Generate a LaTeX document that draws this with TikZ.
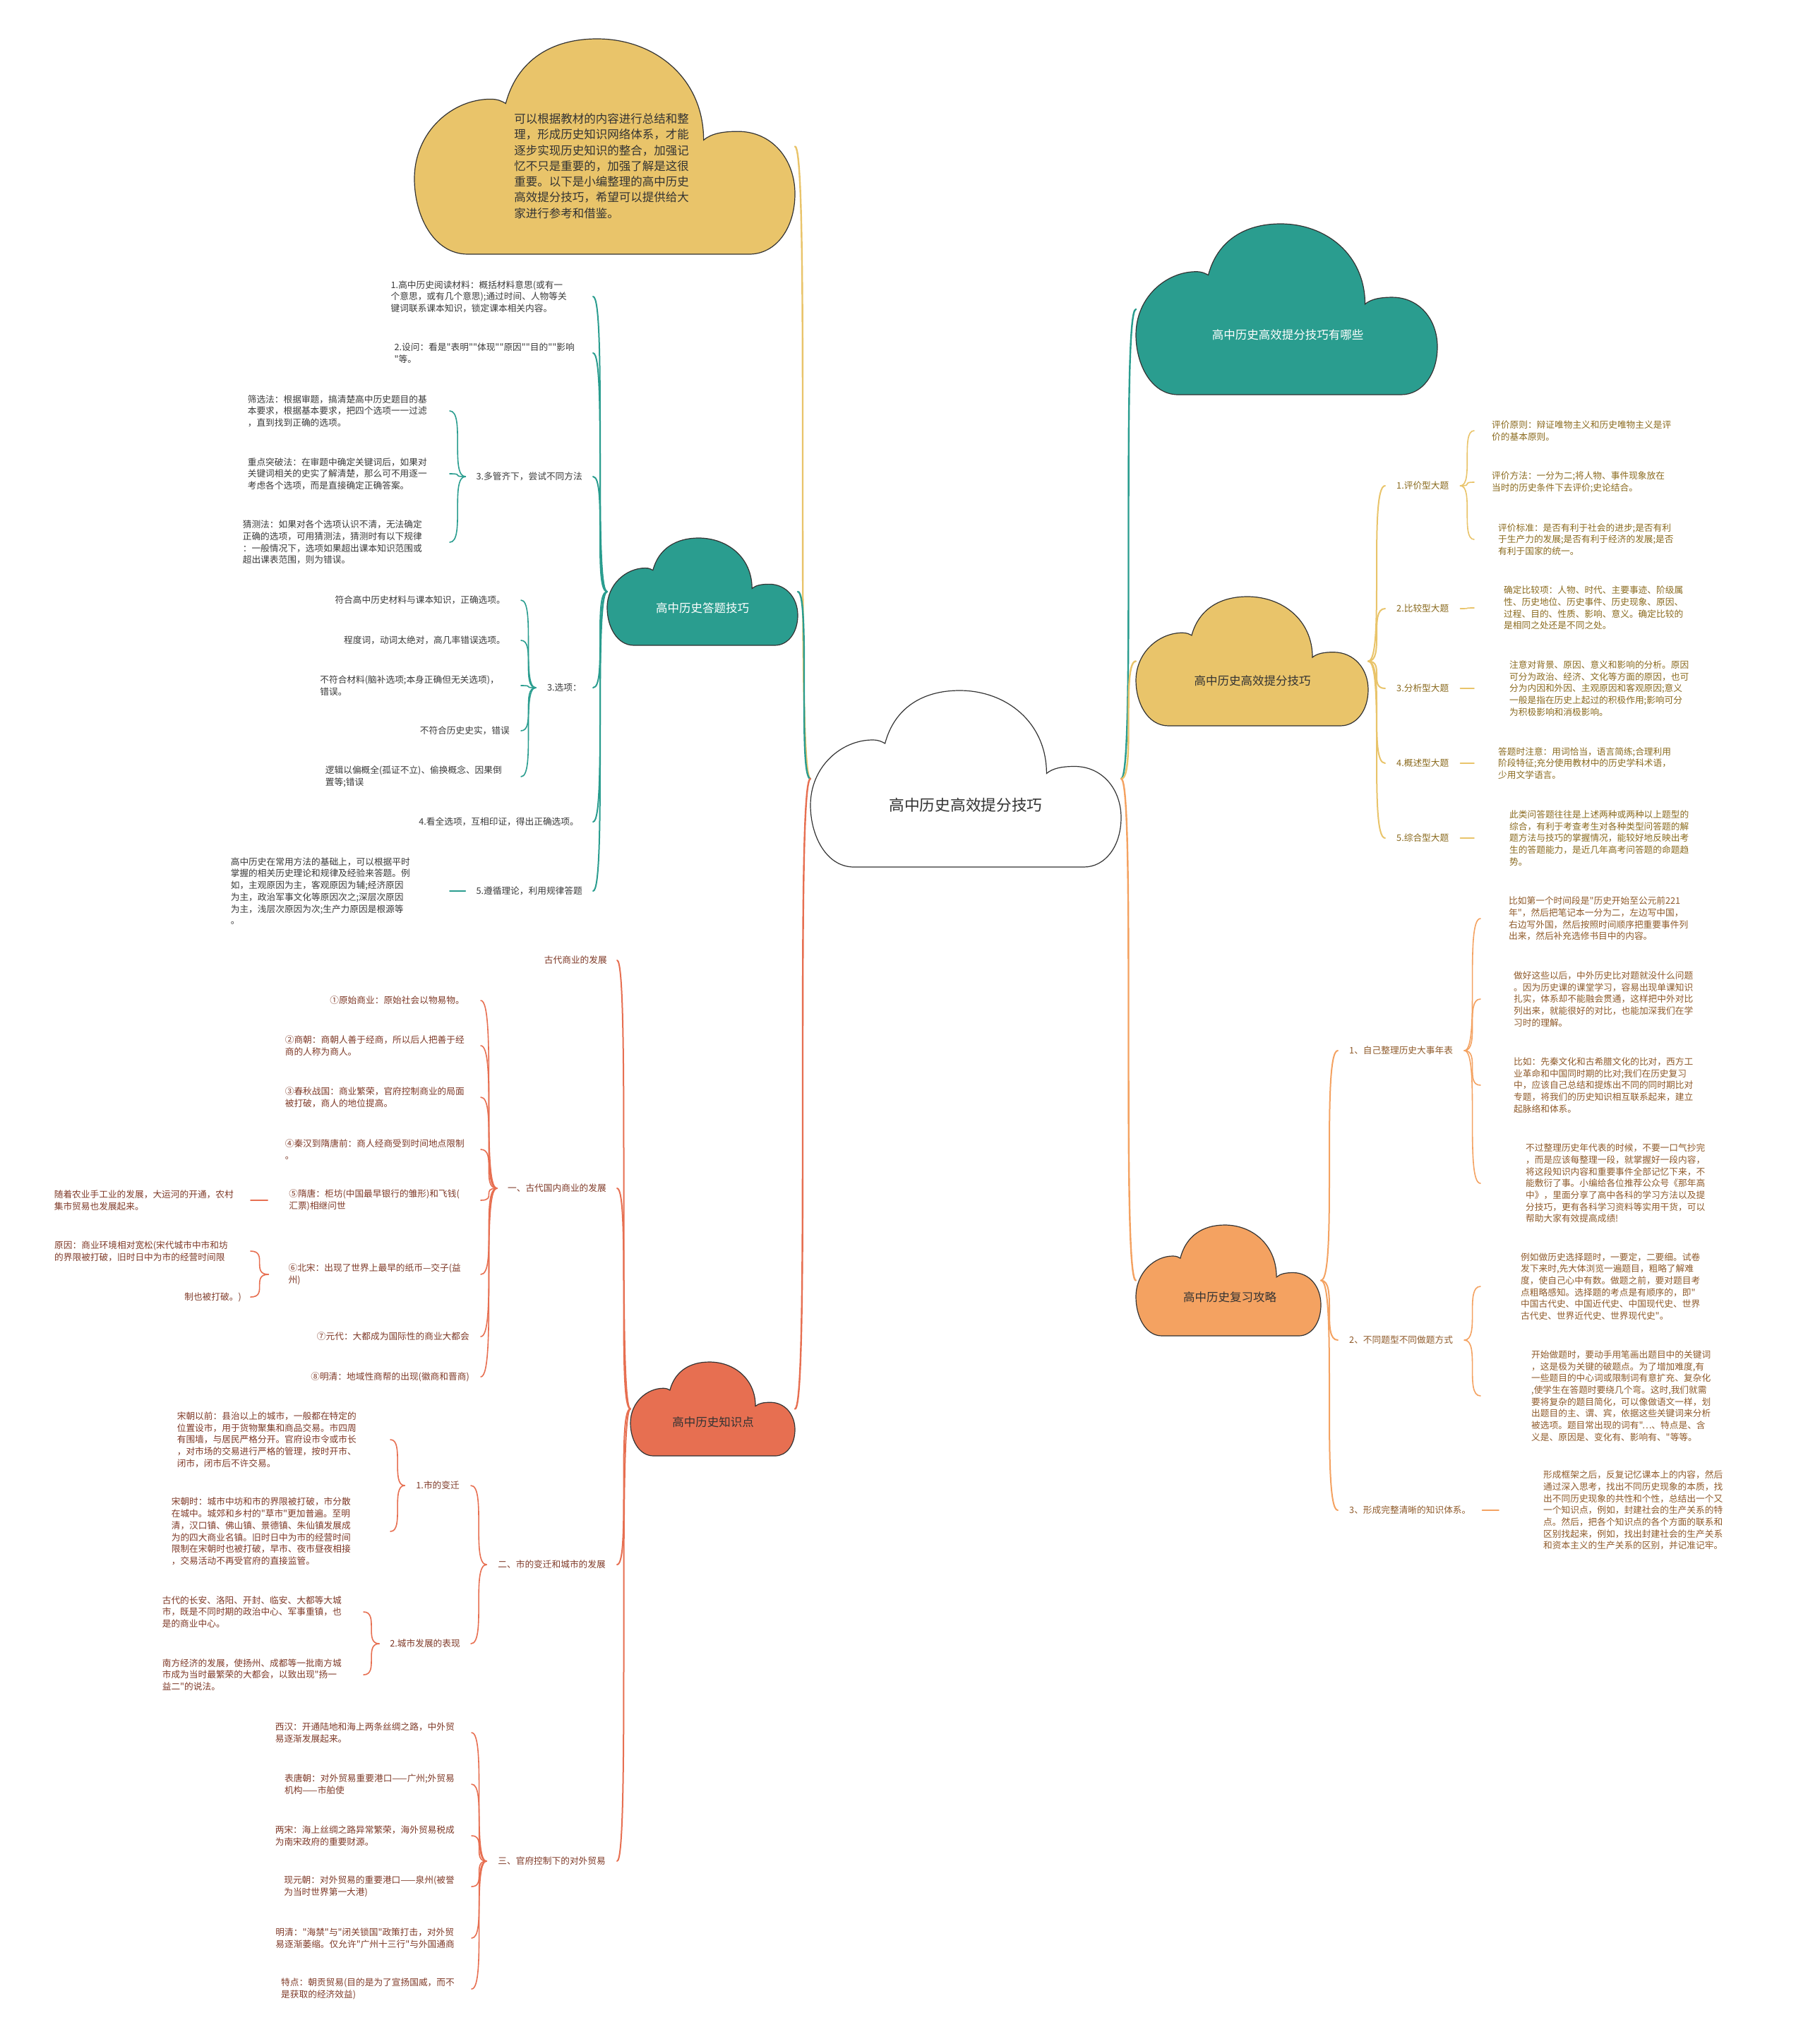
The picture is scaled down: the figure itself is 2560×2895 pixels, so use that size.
\documentclass[tikz,border=0pt]{standalone}
\usepackage{fontspec}
\setmainfont{Noto Sans CJK SC}[Ligatures=TeXOff]
\definecolor{MapTeal}{HTML}{2A9D8F}
\definecolor{MapGold}{HTML}{E9C46A}
\definecolor{MapSand}{HTML}{F4A261}
\definecolor{MapCoral}{HTML}{E76F51}
\definecolor{MapInk}{HTML}{333333}
\definecolor{MapTealText}{HTML}{3A3A3A}
\definecolor{MapGoldText}{HTML}{8A6A1E}
\definecolor{MapSandText}{HTML}{8F5A2A}
\definecolor{MapCoralText}{HTML}{7F3A28}
\tikzset{
    % Cloud styles
    cloudarea/.style={
        rectangle,
        inner sep=0pt,
        outer sep=0pt
    },
    cloudlabel/.style={
        align=center,
        inner sep=2pt,
        font=\fontsize{16.5pt}{22.3pt}\selectfont,
        text=MapInk
    },
    cloud/.pic={
        \draw[line width=1.2pt, draw=MapInk, fill=#1]
            (0.24,0.30) .. controls (0.27,0.10) and (0.36,0.00) .. (0.48,0.00)
            .. controls (0.63,0.00) and (0.76,0.18) .. (0.76,0.47)
            .. controls (0.78,0.44) and (0.81,0.43) .. (0.85,0.43)
            .. controls (0.94,0.43) and (1.00,0.56) .. (1.00,0.72)
            .. controls (1.00,0.88) and (0.95,1.00) .. (0.88,1.00)
            -- (0.14,1.00)
            .. controls (0.05,1.00) and (0.00,0.82) .. (0.00,0.65)
            .. controls (0.00,0.43) and (0.10,0.28) .. (0.20,0.28)
            .. controls (0.22,0.28) and (0.23,0.29) .. (0.24,0.30) -- cycle;
    },
    % Text styles
    note/.style={
        align=left,
        inner ysep=1pt,
        inner xsep=16pt,
        font=\fontsize{12.7pt}{16.7pt}\selectfont
    },
    tealnote/.style={note, text=MapTealText},
    goldnote/.style={note, text=MapGoldText},
    sandnote/.style={note, text=MapSandText},
    coralnote/.style={note, text=MapCoralText},
    % Line styles - smooth steps only
    link/.style={
        line width=1.6pt,
        line cap=round,
        to path={.. controls (\tikztotarget |- \tikztostart) and (\tikztostart |- \tikztotarget) .. (\tikztotarget) \tikztonodes}
    },
    trunk/.style={line width=2.4pt},
    bough/.style={line width=2pt},
    teallink/.style={link, draw=MapTeal},
    goldlink/.style={link, draw=MapGold},
    sandlink/.style={link, draw=MapSand},
    corallink/.style={link, draw=MapCoral}
}

\begin{document}
\begin{tikzpicture}[x=1pt, y=-1pt]
    \path[use as bounding box, fill=white] (0,0) rectangle (2560,2895);

    % Cloud areas
    \node[cloudarea, minimum width=440pt, minimum height=250pt] (root) at (1368,1103) {};
    \node[cloudarea, minimum width=539pt, minimum height=305pt] (top) at (856.5,207.5) {};
    \node[cloudarea, minimum width=427pt, minimum height=242pt] (ask) at (1822.5,438) {};
    \node[cloudarea, minimum width=329pt, minimum height=183pt] (tips) at (1773.5,936.5) {};
    \node[cloudarea, minimum width=262pt, minimum height=157pt] (review) at (1740,1813.5) {};
    \node[cloudarea, minimum width=270pt, minimum height=152pt] (answer) at (995,838) {};
    \node[cloudarea, minimum width=233pt, minimum height=133pt] (know) at (1009.5,1995.5) {};

    % Answer skills
    \node[tealnote, anchor=east, inner xsep=37pt] (dt1) at (840,420) {1.高中历史阅读材料：概括材料意思(或有一\\个意思，或有几个意思);通过时间、人物等关\\键词联系课本知识，锁定课本相关内容。};
    \node[tealnote, anchor=east, inner xsep=26pt] (dt2) at (840,500) {2.设问：看是"表明""体现""原因""目的""影响\\"等。};
    \node[tealnote, anchor=east, inner xsep=15pt] (dt3) at (840,675) {3.多管齐下，尝试不同方法};
    \node[tealnote, anchor=east, inner xsep=32pt] (dt3a) at (637,582) {筛选法：根据审题，搞清楚高中历史题目的基\\本要求，根据基本要求，把四个选项一一过滤\\，直到找到正确的选项。};
    \node[tealnote, anchor=east, inner xsep=32pt] (dt3b) at (637,671) {重点突破法：在审题中确定关键词后，如果对\\关键词相关的史实了解清楚，那么可不用逐一\\考虑各个选项，而是直接确定正确答案。};
    \node[tealnote, anchor=east, inner xsep=39pt] (dt3c) at (637,768) {猜测法：如果对各个选项认识不清，无法确定\\正确的选项，可用猜测法，猜测时有以下规律\\：一般情况下，选项如果超出课本知识范围或\\超出课表范围，则为错误。};
    \node[tealnote, anchor=east] (dt4) at (840,974) {3.选项：};
    \node[tealnote, anchor=east, inner xsep=22pt] (dt4a) at (738,850) {符合高中历史材料与课本知识，正确选项。};
    \node[tealnote, anchor=east, inner xsep=22pt] (dt4b) at (738,907) {程度词，动词太绝对，高几率错误选项。};
    \node[tealnote, anchor=east, inner xsep=31pt] (dt4c) at (738,971) {不符合材料(脑补选项;本身正确但无关选项)，\\错误。};
    \node[tealnote, anchor=east] (dt4d) at (738,1035) {不符合历史史实，错误};
    \node[tealnote, anchor=east, inner xsep=27pt] (dt4e) at (738,1100) {逻辑以偏概全(孤证不立)、偷换概念、因果倒\\置等;错误};
    \node[tealnote, anchor=east, inner xsep=20pt] (dt5) at (840,1164) {4.看全选项，互相印证，得出正确选项。};
    \node[tealnote, anchor=east, inner xsep=15pt] (dt6) at (840,1262) {5.遵循理论，利用规律答题};
    \node[tealnote, anchor=east, inner xsep=56pt] (dt6a) at (637,1262) {高中历史在常用方法的基础上，可以根据平时\\掌握的相关历史理论和规律及经验来答题。例\\如，主观原因为主，客观原因为辅;经济原因\\为主，政治军事文化等原因次之;深层次原因\\为主，浅层次原因为次;生产力原因是根源等\\。};

    % Knowledge points
    \node[coralnote, anchor=east, inner xsep=14pt] (k0) at (874,1360) {古代商业的发展};
    \node[coralnote, anchor=east, inner xsep=15pt] (k1) at (874,1683) {一、古代国内商业的发展};
    \node[coralnote, anchor=east, inner xsep=23pt] (k1a) at (681,1417) {①原始商业：原始社会以物易物。};
    \node[coralnote, anchor=east, inner xsep=23pt] (k1b) at (681,1481) {②商朝：商朝人善于经商，所以后人把善于经\\商的人称为商人。};
    \node[coralnote, anchor=east, inner xsep=23pt] (k1c) at (681,1554) {③春秋战国：商业繁荣，官府控制商业的局面\\被打破，商人的地位提高。};
    \node[coralnote, anchor=east, inner xsep=23pt] (k1d) at (681,1628) {④秦汉到隋唐前：商人经商受到时间地点限制\\。};
    \node[coralnote, anchor=east, inner xsep=30pt] (k1e) at (681,1700) {⑤隋唐：柜坊(中国最早银行的雏形)和飞钱(\\汇票)相继问世};
    \node[coralnote, anchor=east, inner xsep=24pt] (k1e1) at (355,1700) {随着农业手工业的发展，大运河的开通，农村\\集市贸易也发展起来。};
    \node[coralnote, anchor=east, inner xsep=28pt] (k1f) at (681,1805) {⑥北宋：出现了世界上最早的纸币—交子(益\\州)};
    \node[coralnote, anchor=east, inner xsep=32pt] (k1f1) at (355,1772) {原因：商业环境相对宽松(宋代城市中市和坊\\的界限被打破，旧时日中为市的经营时间限};
    \node[coralnote, anchor=east, inner xsep=13pt] (k1f2) at (355,1837) {制也被打破。)};
    \node[coralnote, anchor=east] (k1g) at (681,1893) {⑦元代：大都成为国际性的商业大都会};
    \node[coralnote, anchor=east] (k1h) at (681,1950) {⑧明清：地域性商帮的出现(徽商和晋商)};
    \node[coralnote, anchor=east] (k2) at (874,2216) {二、市的变迁和城市的发展};
    \node[coralnote, anchor=east] (k2a) at (667,2104) {1.市的变迁};
    \node[coralnote, anchor=east, inner xsep=48pt] (k2a1) at (553,2039) {宋朝以前：县治以上的城市，一般都在特定的\\位置设市，用于货物聚集和商品交易。市四周\\有围墙，与居民严格分开。官府设市令或市长\\，对市场的交易进行严格的管理，按时开市、\\闭市，闭市后不许交易。};
    \node[coralnote, anchor=east, inner xsep=56pt] (k2a2) at (553,2169) {宋朝时：城市中坊和市的界限被打破，市分散\\在城中。城郊和乡村的"草市"更加普遍。至明\\清，汉口镇、佛山镇、景德镇、朱仙镇发展成\\为的四大商业名镇。旧时日中为市的经营时间\\限制在宋朝时也被打破，早市、夜市昼夜相接\\，交易活动不再受官府的直接监管。};
    \node[coralnote, anchor=east, inner xsep=15pt] (k2b) at (667,2328) {2.城市发展的表现};
    \node[coralnote, anchor=east, inner xsep=31pt] (k2b1) at (515,2283) {古代的长安、洛阳、开封、临安、大都等大城\\市，既是不同时期的政治中心、军事重镇，也\\是的商业中心。};
    \node[coralnote, anchor=east, inner xsep=31pt] (k2b2) at (515,2372) {南方经济的发展，使扬州、成都等一批南方城\\市成为当时最繁荣的大都会，以致出现"扬一\\益二"的说法。};
    \node[coralnote, anchor=east] (k3) at (874,2636) {三、官府控制下的对外贸易};
    \node[coralnote, anchor=east, inner xsep=24pt] (k3a) at (668,2454) {西汉：开通陆地和海上两条丝绸之路，中外贸\\易逐渐发展起来。};
    \node[coralnote, anchor=east, inner xsep=24pt] (k3b) at (668,2527) {表唐朝：对外贸易重要港口——广州;外贸易\\机构——市舶使};
    \node[coralnote, anchor=east, inner xsep=24pt] (k3c) at (668,2600) {两宋：海上丝绸之路异常繁荣，海外贸易税成\\为南宋政府的重要财源。};
    \node[coralnote, anchor=east, inner xsep=24pt] (k3d) at (668,2672) {现元朝：对外贸易的重要港口——泉州(被誉\\为当时世界第一大港)};
    \node[coralnote, anchor=east, inner xsep=24pt] (k3e) at (668,2745) {明清："海禁"与"闭关锁国"政策打击，对外贸\\易逐渐萎缩。仅允许"广州十三行"与外国通商};
    \node[coralnote, anchor=east, inner xsep=24pt] (k3f) at (668,2817) {特点：朝贡贸易(目的是为了宣扬国威，而不\\是获取的经济效益)};

    % Scoring tips
    \node[goldnote, anchor=west] (g1) at (1962,688) {1.评价型大题};
    \node[goldnote, anchor=west, inner xsep=25pt] (g1a) at (2088,610) {评价原则：辩证唯物主义和历史唯物主义是评\\价的基本原则。};
    \node[goldnote, anchor=west, inner xsep=25pt] (g1b) at (2088,683) {评价方法：一分为二;将人物、事件现象放在\\当时的历史条件下去评价;史论结合。};
    \node[goldnote, anchor=west, inner xsep=34pt] (g1c) at (2088,764) {评价标准：是否有利于社会的进步;是否有利\\于生产力的发展;是否有利于经济的发展;是否\\有利于国家的统一。};
    \node[goldnote, anchor=west] (g2) at (1962,862) {2.比较型大题};
    \node[goldnote, anchor=west, inner xsep=42pt] (g2a) at (2088,861) {确定比较项：人物、时代、主要事迹、阶级属\\性、历史地位、历史事件、历史现象、原因、\\过程、目的、性质、影响、意义。确定比较的\\是相同之处还是不同之处。};
    \node[goldnote, anchor=west] (g3) at (1962,975) {3.分析型大题};
    \node[goldnote, anchor=west, inner xsep=50pt] (g3a) at (2088,975) {注意对背景、原因、意义和影响的分析。原因\\可分为政治、经济、文化等方面的原因，也可\\分为内因和外因、主观原因和客观原因;意义\\一般是指在历史上起过的积极作用;影响可分\\为积极影响和消极影响。};
    \node[goldnote, anchor=west] (g4) at (1962,1081) {4.概述型大题};
    \node[goldnote, anchor=west, inner xsep=34pt] (g4a) at (2088,1081) {答题时注意：用词恰当，语言简练;合理利用\\阶段特征;充分使用教材中的历史学科术语，\\少用文学语言。};
    \node[goldnote, anchor=west] (g5) at (1962,1187) {5.综合型大题};
    \node[goldnote, anchor=west, inner xsep=50pt] (g5a) at (2088,1187) {此类问答题往往是上述两种或两种以上题型的\\综合，有利于考查考生对各种类型问答题的解\\题方法与技巧的掌握情况，能较好地反映出考\\生的答题能力，是近几年高考问答题的命题趋\\势。};

    % Review strategy
    \node[sandnote, anchor=west] (o1) at (1895,1488) {1、自己整理历史大事年表};
    \node[sandnote, anchor=west, inner xsep=40pt] (o1a) at (2097,1301) {比如第一个时间段是"历史开始至公元前221\\年"，然后把笔记本一分为二，左边写中国，\\右边写外国，然后按照时间顺序把重要事件列\\出来，然后补充选修书目中的内容。};
    \node[sandnote, anchor=west, inner xsep=47pt] (o1b) at (2097,1415) {做好这些以后，中外历史比对题就没什么问题\\。因为历史课的课堂学习，容易出现单课知识\\扎实，体系却不能融会贯通，这样把中外对比\\列出来，就能很好的对比，也能加深我们在学\\习时的理解。};
    \node[sandnote, anchor=west, inner xsep=47pt] (o1c) at (2097,1537) {比如：先秦文化和古希腊文化的比对，西方工\\业革命和中国同时期的比对;我们在历史复习\\中，应该自己总结和提炼出不同的同时期比对\\专题，将我们的历史知识相互联系起来，建立\\起脉络和体系。};
    \node[sandnote, anchor=west, inner xsep=64pt] (o1d) at (2097,1676) {不过整理历史年代表的时候，不要一口气抄完\\，而是应该每整理一段，就掌握好一段内容，\\将这段知识内容和重要事件全部记忆下来，不\\能敷衍了事。小编给各位推荐公众号《那年高\\中》，里面分享了高中各科的学习方法以及提\\分技巧，更有各科学习资料等实用干货，可以\\帮助大家有效提高成绩!};
    \node[sandnote, anchor=west] (o2) at (1895,1898) {2、不同题型不同做题方式};
    \node[sandnote, anchor=west, inner xsep=57pt] (o2a) at (2097,1822) {例如做历史选择题时，一要定，二要细。试卷\\发下来时,先大体浏览一遍题目，粗略了解难\\度，使自己心中有数。做题之前，要对题目考\\点粗略感知。选择题的考点是有顺序的，即"\\中国古代史、中国近代史、中国现代史、世界\\古代史、世界近代史、世界现代史"。};
    \node[sandnote, anchor=west, inner xsep=72pt] (o2b) at (2097,1977) {开始做题时，要动手用笔画出题目中的关键词\\，这是极为关键的破题点。为了增加难度,有\\一些题目的中心词或限制词有意扩充、复杂化\\,使学生在答题时要绕几个弯。这时,我们就需\\要将复杂的题目简化，可以像做语文一样，划\\出题目的主、谓、宾，依据这些关键词来分析\\被选项。题目常出现的词有"…、特点是、含\\义是、原因是、变化有、影响有、"等等。};
    \node[sandnote, anchor=west] (o3) at (1895,2139) {3、形成完整清晰的知识体系。};
    \node[sandnote, anchor=west, inner xsep=63pt] (o3a) at (2123,2139) {形成框架之后，反复记忆课本上的内容，然后\\通过深入思考，找出不同历史现象的本质，找\\出不同历史现象的共性和个性，总结出一个又\\一个知识点，例如，封建社会的生产关系的特\\点。然后，把各个知识点的各个方面的联系和\\区别找起来，例如，找出封建社会的生产关系\\和资本主义的生产关系的区别，并记准记牢。};

    % Root to clouds
    \draw[goldlink, trunk] (root.west) to (top.east);
    \draw[teallink, trunk] (root.west) to (answer.east);
    \draw[corallink, trunk] (root.west) to (know.east);
    \draw[teallink, trunk] (root.east) to (ask.west);
    \draw[goldlink, trunk] (root.east) to (tips.west);
    \draw[sandlink, trunk] (root.east) to (review.west);

    % Answer skills links
    \draw[teallink, bough] (answer.west) to (dt1.east);
    \draw[teallink, bough] (answer.west) to (dt2.east);
    \draw[teallink, bough] (answer.west) to (dt3.east);
    \draw[teallink, bough] (answer.west) to (dt4.east);
    \draw[teallink, bough] (answer.west) to (dt5.east);
    \draw[teallink, bough] (answer.west) to (dt6.east);
    \draw[teallink] (dt3.west) to (dt3a.east);
    \draw[teallink] (dt3.west) to (dt3b.east);
    \draw[teallink] (dt3.west) to (dt3c.east);
    \draw[teallink] (dt4.west) to (dt4a.east);
    \draw[teallink] (dt4.west) to (dt4b.east);
    \draw[teallink] (dt4.west) to (dt4c.east);
    \draw[teallink] (dt4.west) to (dt4d.east);
    \draw[teallink] (dt4.west) to (dt4e.east);
    \draw[teallink] (dt6.west) to (dt6a.east);

    % Knowledge links
    \draw[corallink, bough] (know.west) to (k0.east);
    \draw[corallink, bough] (know.west) to (k1.east);
    \draw[corallink, bough] (know.west) to (k2.east);
    \draw[corallink, bough] (know.west) to (k3.east);
    \draw[corallink] (k1.west) to (k1a.east);
    \draw[corallink] (k1.west) to (k1b.east);
    \draw[corallink] (k1.west) to (k1c.east);
    \draw[corallink] (k1.west) to (k1d.east);
    \draw[corallink] (k1.west) to (k1e.east);
    \draw[corallink] (k1.west) to (k1f.east);
    \draw[corallink] (k1.west) to (k1g.east);
    \draw[corallink] (k1.west) to (k1h.east);
    \draw[corallink] (k1e.west) to (k1e1.east);
    \draw[corallink] (k1f.west) to (k1f1.east);
    \draw[corallink] (k1f.west) to (k1f2.east);
    \draw[corallink] (k2.west) to (k2a.east);
    \draw[corallink] (k2.west) to (k2b.east);
    \draw[corallink] (k2a.west) to (k2a1.east);
    \draw[corallink] (k2a.west) to (k2a2.east);
    \draw[corallink] (k2b.west) to (k2b1.east);
    \draw[corallink] (k2b.west) to (k2b2.east);
    \draw[corallink] (k3.west) to (k3a.east);
    \draw[corallink] (k3.west) to (k3b.east);
    \draw[corallink] (k3.west) to (k3c.east);
    \draw[corallink] (k3.west) to (k3d.east);
    \draw[corallink] (k3.west) to (k3e.east);
    \draw[corallink] (k3.west) to (k3f.east);

    % Scoring tips links
    \draw[goldlink, bough] (tips.east) to (g1.west);
    \draw[goldlink, bough] (tips.east) to (g2.west);
    \draw[goldlink, bough] (tips.east) to (g3.west);
    \draw[goldlink, bough] (tips.east) to (g4.west);
    \draw[goldlink, bough] (tips.east) to (g5.west);
    \draw[goldlink] (g1.east) to (g1a.west);
    \draw[goldlink] (g1.east) to (g1b.west);
    \draw[goldlink] (g1.east) to (g1c.west);
    \draw[goldlink] (g2.east) to (g2a.west);
    \draw[goldlink] (g3.east) to (g3a.west);
    \draw[goldlink] (g4.east) to (g4a.west);
    \draw[goldlink] (g5.east) to (g5a.west);

    % Review links
    \draw[sandlink, bough] (review.east) to (o1.west);
    \draw[sandlink, bough] (review.east) to (o2.west);
    \draw[sandlink, bough] (review.east) to (o3.west);
    \draw[sandlink] (o1.east) to (o1a.west);
    \draw[sandlink] (o1.east) to (o1b.west);
    \draw[sandlink] (o1.east) to (o1c.west);
    \draw[sandlink] (o1.east) to (o1d.west);
    \draw[sandlink] (o2.east) to (o2a.west);
    \draw[sandlink] (o2.east) to (o2b.west);
    \draw[sandlink] (o3.east) to (o3a.west);

    % Clouds
    \pic[xscale=440, yscale=250] at (root.north west) {cloud=white};
    \pic[xscale=539, yscale=305] at (top.north west) {cloud=MapGold};
    \pic[xscale=427, yscale=242] at (ask.north west) {cloud=MapTeal};
    \pic[xscale=329, yscale=183] at (tips.north west) {cloud=MapGold};
    \pic[xscale=262, yscale=157] at (review.north west) {cloud=MapSand};
    \pic[xscale=270, yscale=152] at (answer.north west) {cloud=MapTeal};
    \pic[xscale=233, yscale=133] at (know.north west) {cloud=MapCoral};

    % Cloud labels
    \node[cloudlabel, font=\fontsize{21.7pt}{26pt}\selectfont] (rootLabel) at (1368,1140) {高中历史高效提分技巧};
    \node[cloudlabel, align=left] (topLabel) at (852,235) {可以根据教材的内容进行总结和整\\理，形成历史知识网络体系，才能\\逐步实现历史知识的整合，加强记\\忆不只是重要的，加强了解是这很\\重要。以下是小编整理的高中历史\\高效提分技巧，希望可以提供给大\\家进行参考和借鉴。};
    \node[cloudlabel, text=white] (askLabel) at (1824,474) {高中历史高效提分技巧有哪些};
    \node[cloudlabel] (tipsLabel) at (1774,964) {高中历史高效提分技巧};
    \node[cloudlabel] (reviewLabel) at (1742,1837) {高中历史复习攻略};
    \node[cloudlabel, text=white] (answerLabel) at (995,861) {高中历史答题技巧};
    \node[cloudlabel] (knowLabel) at (1010,2014) {高中历史知识点};
\end{tikzpicture}
\end{document}
